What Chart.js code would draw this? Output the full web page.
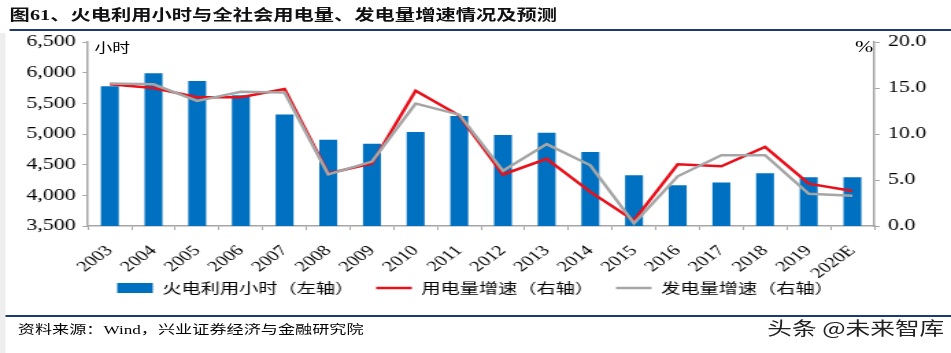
<!DOCTYPE html>
<html>
<head>
<meta charset="utf-8">
<script src="https://cdn.jsdelivr.net/npm/chart.js@4"></script>
<style>
  body { margin: 0; background: #fff; width: 951px; height: 353px; overflow: hidden; }
  /* the reference is stretched sideways, so the whole page is drawn narrow and scaled */
  #wrap { position: absolute; left: 0; top: 0; width: 694px; height: 353px;
          transform: scaleX(1.3703); transform-origin: 0 0; }
  #wrap div { position: absolute; white-space: nowrap; }
  .cjk { font-family: "Noto Sans CJK SC", sans-serif; }
  canvas { position: absolute; left: 0; top: 0; }
</style>
</head>
<body>
<div id="wrap">
  <div style="left:0;top:33px;width:4px;height:320px;background:#eeeeee"></div>
  <div class="cjk" style="left:7px;top:0;line-height:28px;font-size:14.8px;font-weight:700;color:#111">图<span style="font-family:'Liberation Serif'">61</span>、火电利用小时与全社会用电量、发电量增速情况及预测</div>
  <div style="left:7px;top:29px;right:0;height:2px;background:#1f3a6e"></div>
  <canvas id="chart" width="694" height="353"></canvas>
  <div class="cjk" style="left:69px;top:37px;font-size:13px;color:#000">小时</div>
  <div style="left:624px;top:38px;font-size:16px;font-family:'Liberation Serif';color:#000">%</div>
  <div style="left:4px;top:315px;right:0;height:2px;background:#1f3a6e"></div>
  <div class="cjk" style="left:13px;top:319px;font-size:12.5px;color:#000">资料来源：<span style="font-family:'Liberation Serif'">Wind</span>，兴业证券经济与金融研究院</div>
  <div class="cjk" style="left:560px;top:314px;font-size:18px;color:#222;text-shadow:0 0 2px #fff">头条 @未来智库</div>
</div>
<script>
// categories and values
const years = ['2003', '2004', '2005', '2006', '2007', '2008', '2009', '2010', '2011',
    '2012', '2013', '2014', '2015', '2016', '2017', '2018', '2019', '2020E'];
// 火电利用小时（左轴）
const thermalHours = [5780, 5991, 5865, 5633, 5316, 4905, 4839, 5031, 5294,
    4982, 5021, 4706, 4329, 4165, 4209, 4361, 4293, 4295];
// 用电量增速（右轴）, %
const consumptionGrowth = [15.4, 15.0, 14.0, 14.0, 14.9, 5.7, 6.8, 14.7, 12.0,
    5.6, 7.3, 3.7, 0.6, 6.7, 6.5, 8.6, 4.6, 3.8];
// 发电量增速（右轴）, %
const generationGrowth = [15.5, 15.4, 13.6, 14.6, 14.5, 5.6, 7.0, 13.3, 12.1,
    6.0, 8.9, 6.6, 0.3, 5.4, 7.7, 7.7, 3.5, 3.3];

const serif = 'Liberation Serif';
const axisGray = '#a6a6a6';

// the rotated year labels hang below the x axis box, into the legend band,
// so stop the scale from clipping them to its own box
const noLabelClip = {
    id: 'noLabelClip',
    afterLayout(chart) {
        chart.scales.x._computeLabelArea = () => undefined;
    }
};

new Chart(document.getElementById('chart').getContext('2d'), {
    type: 'bar',
    data: {
        labels: years,
        datasets: [{
            label: '火电利用小时（左轴）',
            data: thermalHours,
            backgroundColor: '#0070c0',
            barPercentage: 0.41,
            categoryPercentage: 1,
            yAxisID: 'y',
            pointStyle: 'rect',
            order: 2
        }, {
            type: 'line',
            label: '用电量增速（右轴）',
            data: consumptionGrowth,
            borderColor: '#e8101a',
            backgroundColor: '#e8101a',
            borderWidth: 2.5,
            pointRadius: 0,
            pointStyle: 'line',
            tension: 0,
            yAxisID: 'y1',
            order: 1
        }, {
            type: 'line',
            label: '发电量增速（右轴）',
            data: generationGrowth,
            borderColor: '#a6a6a6',
            backgroundColor: '#a6a6a6',
            borderWidth: 2.5,
            pointRadius: 0,
            pointStyle: 'line',
            tension: 0,
            yAxisID: 'y1',
            order: 0
        }]
    },
    plugins: [noLabelClip],
    options: {
        responsive: false,
        animation: false,
        layout: { padding: { top: 42, bottom: 48, left: 0, right: 0 } },
        plugins: {
            tooltip: { enabled: false },
            legend: {
                position: 'bottom',
                labels: {
                    usePointStyle: true,
                    pointStyleWidth: 26,
                    boxHeight: 10,
                    padding: 16,
                    color: '#000',
                    font: { family: 'Noto Sans CJK SC', size: 14 },
                    sort: (a, b) => a.datasetIndex - b.datasetIndex
                }
            }
        },
        scales: {
            x: {
                afterFit: scale => { scale.height = 39 },
                grid: { drawOnChartArea: false, color: axisGray, tickLength: 4 },
                border: { color: axisGray, width: 1.5 },
                ticks: {
                    minRotation: 45, maxRotation: 45, autoSkip: false, padding: 12,
                    color: '#000', font: { family: serif, size: 15 }
                }
            },
            y: {
                position: 'left',
                min: 3500, max: 6500,
                afterFit: scale => { scale.width = 64.2 },
                grid: { drawOnChartArea: false, color: axisGray, tickLength: 4 },
                border: { color: axisGray, width: 1.5 },
                ticks: {
                    stepSize: 500, padding: 5, color: '#000',
                    font: { family: serif, size: 16 },
                    callback: v => v.toLocaleString('en-US')
                }
            },
            y1: {
                position: 'right',
                min: 0, max: 20,
                afterFit: scale => { scale.width = 56 },
                grid: { drawOnChartArea: false, color: axisGray, tickLength: 4 },
                border: { color: axisGray, width: 1.5 },
                ticks: {
                    stepSize: 5, padding: 6, color: '#000',
                    font: { family: serif, size: 16 },
                    callback: v => v.toFixed(1)
                }
            }
        }
    }
});
</script>
</body>
</html>
